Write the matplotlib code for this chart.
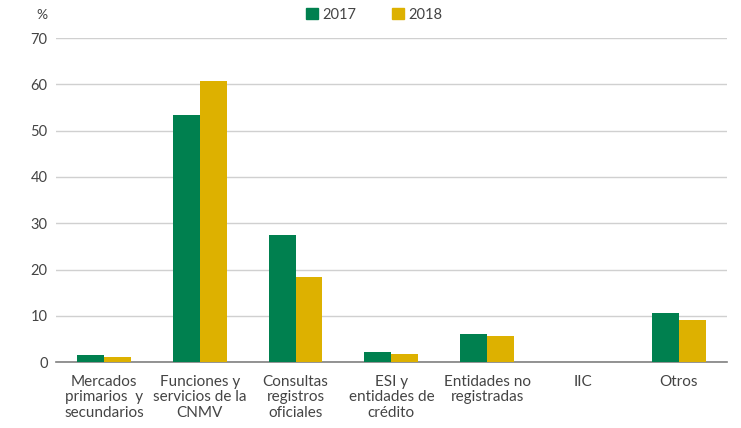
import matplotlib
matplotlib.use("Agg")
import matplotlib.pyplot as plt
import numpy as np
from matplotlib.patches import Patch

categories = ["Mercados\nprimarios  y\nsecundarios", "Funciones y\nservicios de la\nCNMV",
              "Consultas\nregistros\noficiales", "ESI y\nentidades de\ncrédito",
              "Entidades no\nregistradas", "IIC", "Otros"]
v2017 = [1.5, 53.3, 27.4, 2.2, 6.0, 0.0, 10.6]
v2018 = [1.1, 60.7, 18.4, 1.7, 5.6, 0.0, 9.1]
yticks = [0, 10, 20, 30, 40, 50, 60, 70]

green = "#00804F"
yellow = "#DDB100"
txt = "#444444"

plt.rcParams['font.family'] = ['Lato', 'DejaVu Sans']

fig = plt.figure(figsize=(7.41, 4.28), dpi=100)
ax = fig.add_axes([0.0756, 0.154, 0.905, 0.757])
x = np.arange(len(categories))
w = 0.28
ax.bar(x - w/2, v2017, w, color=green, zorder=3)
ax.bar(x + w/2, v2018, w, color=yellow, zorder=3)

ax.set_xlim(-0.5, 6.5)
ax.set_ylim(0, 70)
ax.set_yticks(yticks)
ax.yaxis.grid(True, color="#D0D0D0", linewidth=1, zorder=0)
ax.set_axisbelow(True)
for s in ["left", "right", "top"]:
    ax.spines[s].set_visible(False)
ax.spines["bottom"].set_color("#808080")
ax.spines["bottom"].set_linewidth(1.2)
ax.tick_params(axis="both", length=0, colors=txt)
ax.tick_params(axis="y", pad=6, labelsize=10.5)
ax.tick_params(axis="x", pad=9, labelsize=11)
ax.set_xticks(x)
ax.set_xticklabels(categories, linespacing=1.17)

fig.text(0.057, 0.965, "%", color=txt, fontsize=10, ha="center", va="center")
handles = [Patch(color=green, label="2017"), Patch(color=yellow, label="2018")]
leg = fig.legend(handles=handles, loc="center", bbox_to_anchor=(0.505, 0.965), ncol=2,
                 frameon=False, fontsize=10.5, handlelength=0.8, handleheight=0.8,
                 handletextpad=0.3, columnspacing=2.5)
for t in leg.get_texts():
    t.set_color(txt)

fig.savefig("out.png", dpi=100)
